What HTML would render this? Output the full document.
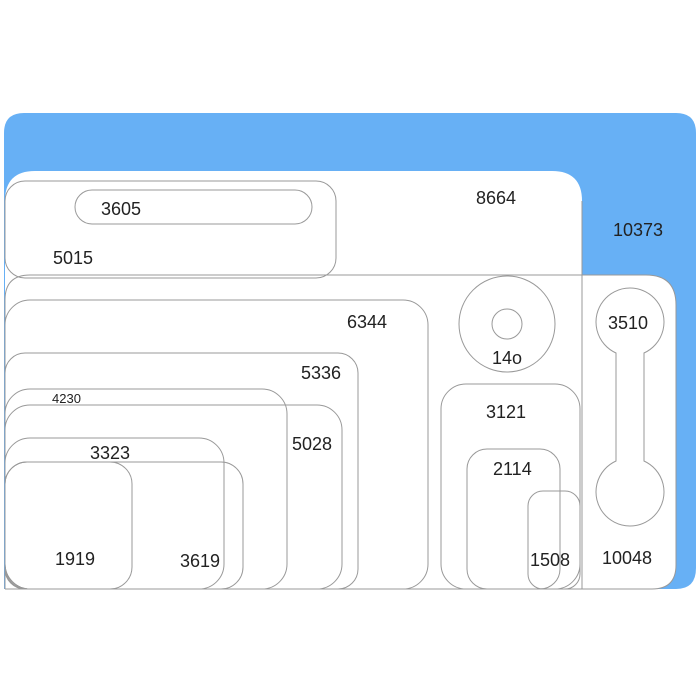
<!DOCTYPE html>
<html><head><style>body{margin:0;background:#fff}svg{display:block}text{font-family:"Liberation Sans",sans-serif;fill:#222;font-size:18px}</style></head><body>
<svg width="700" height="700" viewBox="0 0 700 700">
<rect x="0" y="0" width="700" height="700" fill="#fff"/>
<path d="M24 113 H676 Q696 113 696 133 V568 Q696 589 676 589 H4 V133 Q4 113 24 113Z" fill="#67b0f5"/>
<path d="M35 171 H552 Q582 171 582 201 V275 H646 Q676 275 676 305 V565 Q676 589 652 589 H5 V201 Q5 171 35 171Z" fill="#fff"/>
<g fill="none" stroke="#999" stroke-width="1">
<path d="M582 201 V589"/>
<path d="M5 589 V300 Q5 275 30 275 H646 Q676 275 676 305 V565 Q676 589 652 589 H5"/>
<rect x="5" y="181" width="331" height="97" rx="20"/>
<rect x="75" y="190" width="237" height="34" rx="17"/>
<rect x="5" y="300" width="423" height="289" rx="25"/>
<rect x="5" y="353" width="353" height="236" rx="20"/>
<rect x="5" y="389" width="282" height="200" rx="25"/>
<rect x="5" y="405" width="337" height="184" rx="25"/>
<rect x="5" y="438" width="219" height="151" rx="25"/>
<rect x="5" y="462" width="238" height="127" rx="22"/>
<rect x="5" y="462" width="127" height="127" rx="22"/>
<circle cx="507" cy="324" r="48"/>
<circle cx="507" cy="324" r="15"/>
<rect x="441" y="384" width="139" height="205" rx="25"/>
<rect x="467" y="449" width="93" height="140" rx="20"/>
<rect x="528" y="491" width="52" height="98" rx="15"/>
<path d="M616 353 A34 34 0 1 1 644 353 V461 A34 34 0 1 1 616 461 Z"/>
</g>
<text x="101" y="215">3605</text>
<text x="53" y="264">5015</text>
<text x="476" y="204">8664</text>
<text x="613" y="236">10373</text>
<text x="347" y="328">6344</text>
<text x="301" y="379">5336</text>
<text x="52" y="403" style="font-size:13px">4230</text>
<text x="292" y="450">5028</text>
<text x="90" y="459">3323</text>
<text x="55" y="565">1919</text>
<text x="180" y="567">3619</text>
<text x="492" y="364">14o</text>
<text x="608" y="329">3510</text>
<text x="486" y="418">3121</text>
<text x="493" y="475">2114</text>
<text x="530" y="566">1508</text>
<text x="602" y="564">10048</text>
</svg>
</body></html>
